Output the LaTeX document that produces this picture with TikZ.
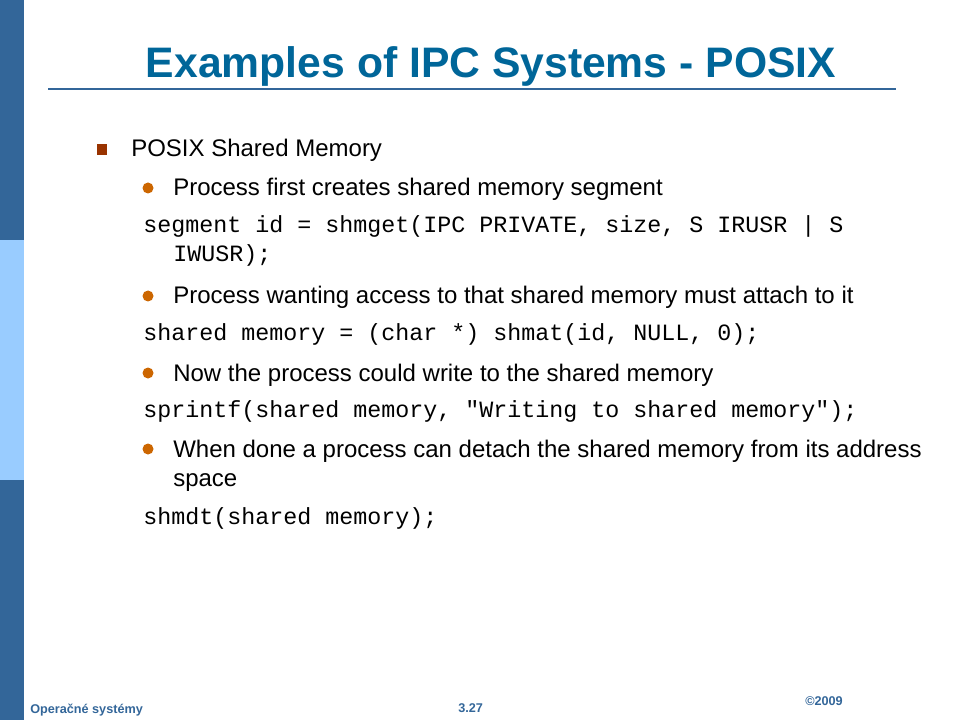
\documentclass[tikz,border=0pt]{standalone}
\usepackage{fontspec}
\setmainfont{Liberation Sans}
\newfontfamily\codefont{Liberation Mono}
\usetikzlibrary{positioning}
\definecolor{slideblue}{HTML}{336699}
\definecolor{lightbar}{HTML}{99CCFF}
\definecolor{titleblue}{HTML}{006699}
\definecolor{squarebrown}{HTML}{993300}
\definecolor{dotorange}{HTML}{CC6600}

\begin{document}
\begin{tikzpicture}[x=0.75pt,y=-0.75pt,
    txt/.style={anchor=base west,inner sep=0pt,font=\fontsize{18}{18}\selectfont},
    code/.style={anchor=base west,inner sep=0pt,font=\codefont\fontsize{17.5}{17.5}\selectfont},
    foot/.style={anchor=base west,inner sep=0pt,text=slideblue,font=\bfseries\fontsize{9.5}{9.5}\selectfont},
    dot/.style={fill=dotorange}]
  \useasboundingbox (0,0) rectangle (960,720);

  % Side bar
  \fill[slideblue] (0,0) rectangle (24,720);
  \fill[lightbar] (0,240) rectangle (24,480);

  % Title
  \node[anchor=base,inner sep=0pt,text=titleblue,font=\bfseries\fontsize{32}{32}\selectfont] (title) at (491,78) {Examples of IPC Systems - POSIX};
  \draw[slideblue,line width=1.5pt] (48,89.5) -- (896,89.5);

  % Main bullet
  \fill[squarebrown] (97,144) rectangle (107,155);
  \node[txt] (posix) at (131,157) {POSIX Shared Memory};

  % Sub bullets
  \fill[dot] (148,188) circle[radius=5.5];
  \node[txt] (create) at (173,196) {Process first creates shared memory segment};
  \node[code] (shmget) at (143,233) {segment id = shmget(IPC PRIVATE, size, S IRUSR | S};
  \node[code] (shmget2) at (173,262) {IWUSR);};

  \fill[dot] (148,296) circle[radius=5.5];
  \node[txt] (attach) at (173,303) {Process wanting access to that shared memory must attach to it};
  \node[code] (shmat) at (143,340) {shared memory = (char *) shmat(id, NULL, 0);};

  \fill[dot] (148,373) circle[radius=5.5];
  \node[txt] (write) at (173,381) {Now the process could write to the shared memory};
  \node[code] (sprintf) at (143,417) {sprintf(shared memory, "Writing to shared memory");};

  \fill[dot] (148,449) circle[radius=5.5];
  \node[txt] (detach) at (173,457) {When done a process can detach the shared memory from its address};
  \node[txt] (detach2) at (173,486) {space};
  \node[code] (shmdt) at (143,524) {shmdt(shared memory);};

  % Footer
  \node[foot] (course) at (30,713) {Operačné systémy};
  \node[foot] (page) at (458,712) {3.27};
  \node[foot] (year) at (805,705) {©2009};
\end{tikzpicture}
\end{document}
